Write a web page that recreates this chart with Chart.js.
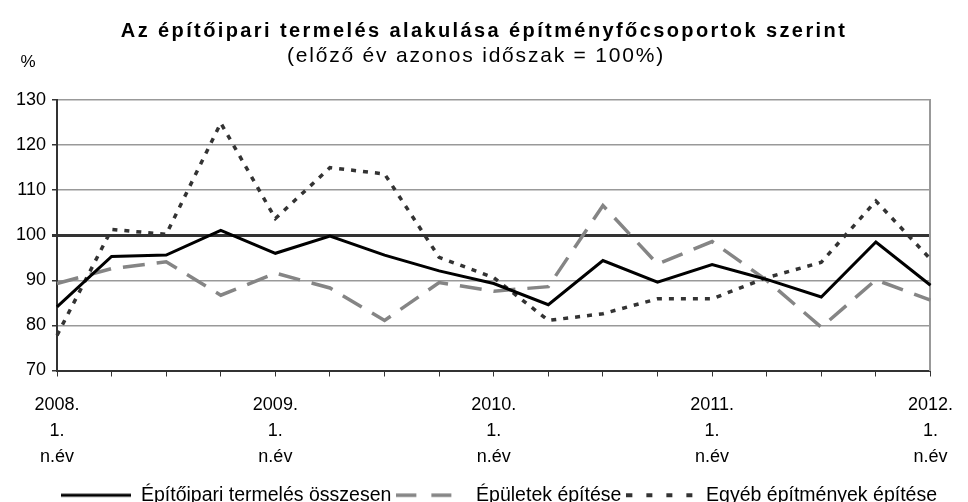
<!DOCTYPE html>
<html>
<head>
<meta charset="utf-8">
<script src="https://cdn.jsdelivr.net/npm/chart.js@4.4.0/dist/chart.umd.min.js"></script>
<style>
  html, body { margin: 0; padding: 0; background: #fff; overflow: hidden; }
</style>
</head>
<body>
<canvas id="myChart" width="968" height="502"></canvas>
<script>
// negyedévek 2008. 1. n.év - 2012. 1. n.év
var categories = ['2008. 1. n.év', '2008. 2. n.év', '2008. 3. n.év', '2008. 4. n.év',
                  '2009. 1. n.év', '2009. 2. n.év', '2009. 3. n.év', '2009. 4. n.év',
                  '2010. 1. n.év', '2010. 2. n.év', '2010. 3. n.év', '2010. 4. n.év',
                  '2011. 1. n.év', '2011. 2. n.év', '2011. 3. n.év', '2011. 4. n.év',
                  '2012. 1. n.év'];
var tickLabels = [['2008.', '1.', 'n.év'], '', '', '',
                  ['2009.', '1.', 'n.év'], '', '', '',
                  ['2010.', '1.', 'n.év'], '', '', '',
                  ['2011.', '1.', 'n.év'], '', '', '',
                  ['2012.', '1.', 'n.év']];

var osszesen = [84.1, 95.3, 95.6, 101.1, 96.0, 99.8, 95.6, 92.1, 89.3, 84.6, 94.4, 89.6, 93.5, 90.2, 86.3, 98.5, 88.9];
var epuletek = [89.3, 92.6, 94.1, 86.7, 91.6, 88.3, 81.1, 89.5, 87.6, 88.6, 106.6, 93.6, 98.6, 90.0, 79.6, 90.1, 85.6];
var egyeb    = [77.8, 101.3, 100.2, 124.9, 103.7, 115.0, 113.6, 95.1, 90.6, 81.1, 82.6, 85.9, 85.9, 90.6, 94.0, 107.6, 94.7];

var yTicks = [70, 80, 90, 100, 110, 120, 130];

var titleText = 'Az építőipari termelés alakulása építményfőcsoportok szerint';
var subtitleText = '(előző év azonos időszak = 100%)';

var FONT = '"Liberation Sans", Arial, sans-serif';
Chart.defaults.font.family = FONT;
Chart.defaults.color = '#000';

// jelmagyarázat mintavonalai (szaggatott vonal is látszódjon)
function lineSample(color, width, dash) {
  var c = document.createElement('canvas');
  c.width = 70;
  c.height = 8;
  var g = c.getContext('2d');
  g.strokeStyle = color;
  g.lineWidth = width;
  g.setLineDash(dash);
  g.beginPath();
  g.moveTo(0, 4);
  g.lineTo(70, 4);
  g.stroke();
  return c;
}
var legendSamples = [
  lineSample('#000', 3, []),
  lineSample('#858585', 3.5, [20, 15]),
  lineSample('#333', 4, [6, 14])
];

// cím, alcím és "%" felirat (ritkított betűközzel, mint az eredetin)
var headerText = {
  id: 'headerText',
  afterDraw: function(chart) {
    var ctx = chart.ctx;
    ctx.save();
    ctx.fillStyle = '#000';
    ctx.textAlign = 'center';
    ctx.textBaseline = 'middle';
    ctx.font = 'bold 20px ' + FONT;
    ctx.letterSpacing = '2.4px';
    ctx.fillText(titleText, 484, 31);
    ctx.font = '21px ' + FONT;
    ctx.letterSpacing = '1.8px';
    ctx.fillText(subtitleText, 476, 56);
    ctx.letterSpacing = '0px';
    ctx.font = '17px ' + FONT;
    ctx.fillText('%', 28, 62);
    ctx.restore();
  }
};

var ctx = document.getElementById('myChart').getContext('2d');
var chart = new Chart(ctx, {
  type: 'line',
  data: {
    labels: categories,
    datasets: [{
      label: 'Építőipari termelés összesen',
      data: osszesen,
      borderColor: '#000',
      borderWidth: 3,
      pointRadius: 0,
      tension: 0
    }, {
      label: 'Épületek építése',
      data: epuletek,
      borderColor: '#858585',
      borderWidth: 3.5,
      borderDash: [22, 12],
      pointRadius: 0,
      tension: 0
    }, {
      label: 'Egyéb építmények építése',
      data: egyeb,
      borderColor: '#333',
      borderWidth: 3.5,
      borderDash: [5, 7],
      pointRadius: 0,
      tension: 0
    }]
  },
  options: {
    responsive: false,
    animation: false,
    layout: { padding: { left: 0, right: 26, top: 100, bottom: -13 } },
    plugins: {
      title: { display: false },
      legend: {
        position: 'bottom',
        align: 'end',
        labels: {
          font: { size: 19.5 },
          color: '#000',
          usePointStyle: true,
          pointStyleWidth: 70,
          boxHeight: 12,
          padding: 5,
          generateLabels: function(chart) {
            var items = Chart.defaults.plugins.legend.labels.generateLabels(chart);
            items.forEach(function(it, i) { it.pointStyle = legendSamples[i]; });
            return items;
          }
        }
      },
      tooltip: { enabled: false }
    },
    scales: {
      x: {
        offset: false,
        afterFit: function(axis) { axis.height = 110; },
        grid: {
          drawOnChartArea: false,
          drawTicks: true,
          tickLength: 6,
          color: '#333'
        },
        border: { color: '#333', width: 2 },
        ticks: {
          autoSkip: false,
          maxRotation: 0,
          padding: 15,
          font: { size: 18, lineHeight: 1.45 },
          callback: function(v, i) { return tickLabels[i]; }
        }
      },
      y: {
        min: yTicks[0],
        max: yTicks[yTicks.length - 1],
        afterFit: function(axis) { axis.width = 57; },
        afterBuildTicks: function(axis) {
          axis.ticks = yTicks.map(function(v) { return { value: v }; });
        },
        grid: {
          color: function(c) { return c.tick && c.tick.value === 100 ? '#333' : '#999'; },
          lineWidth: function(c) { return c.tick && c.tick.value === 100 ? 3 : 1.5; },
          tickColor: '#333',
          tickLength: 5
        },
        border: { color: '#333', width: 2 },
        ticks: { font: { size: 18 }, padding: 6 }
      },
      y2: {
        position: 'right',
        min: yTicks[0],
        max: yTicks[yTicks.length - 1],
        afterFit: function(axis) { axis.width = 0; },
        grid: { drawOnChartArea: false, drawTicks: false },
        border: { color: '#999', width: 2 },
        ticks: { display: false }
      }
    }
  },
  plugins: [headerText]
});
</script>
</body>
</html>
